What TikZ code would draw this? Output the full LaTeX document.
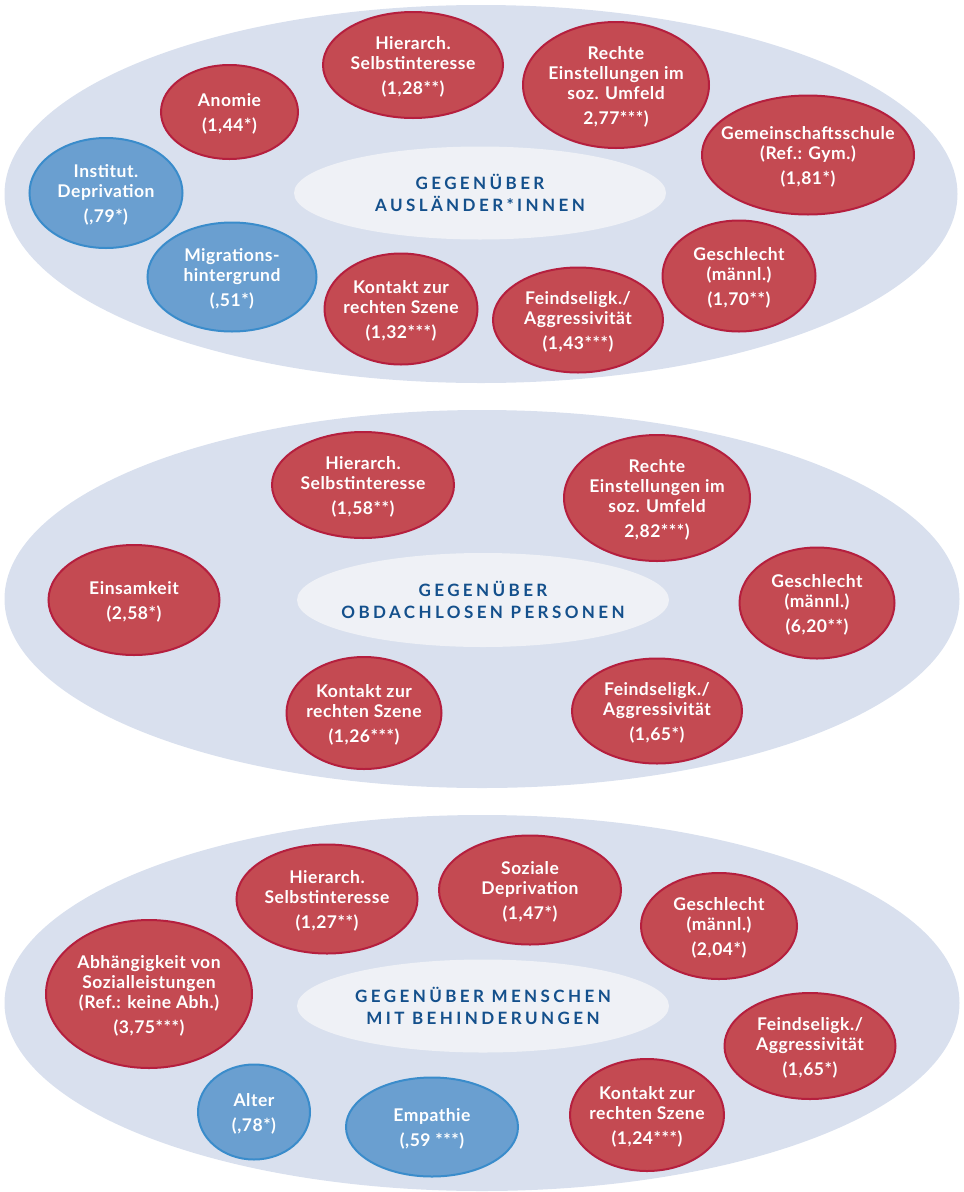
\documentclass[tikz,border=0pt]{standalone}
\usepackage{fontspec}
\setmainfont{Lato}[LetterSpace=3]
\newfontfamily\titlefont{Lato}[LetterSpace=20]
\usetikzlibrary{shapes.geometric}
\definecolor{panelbg}{HTML}{D9E0EE}
\definecolor{titlebg}{HTML}{EFF1F6}
\definecolor{titletext}{HTML}{14508C}
\definecolor{redfill}{HTML}{C44A52}
\definecolor{redline}{HTML}{B51F3E}
\definecolor{bluefill}{HTML}{6A9FD0}
\definecolor{blueline}{HTML}{3A8CCB}
\newcommand{\ctxt}[1]{\raisebox{-3pt}[\height][\depth]{\makebox[0pt]{\begin{tabular}{@{}c@{}}#1\end{tabular}}}}
\tikzset{
  panel/.style={ellipse, fill=panelbg, draw=none, inner sep=0pt},
  titlebox/.style={ellipse, fill=titlebg, draw=none, inner sep=0pt,
    text=titletext, font=\titlefont\bfseries\fontsize{17}{22}\selectfont},
  redbox/.style={ellipse, fill=redfill, draw=redline, line width=2pt, inner sep=0pt,
    text=white, font=\bfseries\fontsize{17.5}{20}\selectfont},
  bluebox/.style={ellipse, fill=bluefill, draw=blueline, line width=2pt, inner sep=0pt,
    text=white, font=\bfseries\fontsize{17.5}{20}\selectfont},
  sz/.style n args={2}{minimum width=#1pt, minimum height=#2pt}
}
\begin{document}
\begin{tikzpicture}[x=1pt,y=-1pt]
\useasboundingbox (0,0) rectangle (964,1192);
% ---------- Panel 1 ----------
\node[panel, sz={953}{378}] (p1) at (481,194) {};
\node[titlebox, sz={372}{93}] (t1) at (480,193) {\ctxt{GEGENÜBER\\AUSLÄNDER*INNEN}};
\node[redbox, sz={180}{106}] (a1) at (413,65) {\ctxt{Hierarch.\\Selbstinteresse\\[5pt](1,28**)}};
\node[redbox, sz={186}{126}] (a2) at (616,85) {\ctxt{Rechte\\Einstellungen im\\soz. Umfeld\\[5pt]2,77***)}};
\node[redbox, sz={137}{94}] (a3) at (229.5,112) {\ctxt{Anomie\\[5pt](1,44*)}};
\node[bluebox, sz={153}{110}] (a4) at (106,193) {\ctxt{Institut.\\Deprivation\\[5pt](,79*)}};
\node[bluebox, sz={169}{109}] (a5) at (232,277) {\ctxt{Migrations-\\hintergrund\\[5pt](,51*)}};
\node[redbox, sz={153}{111}] (a6) at (401,309) {\ctxt{Kontakt zur\\rechten Szene\\[5pt](1,32***)}};
\node[redbox, sz={212}{119}] (a7) at (808,155) {\ctxt{Gemeinschaftsschule\\(Ref.: Gym.)\\[5pt](1,81*)}};
\node[redbox, sz={153}{111}] (a8) at (739,276) {\ctxt{Geschlecht\\(männl.)\\[5pt](1,70**)}};
\node[redbox, sz={170}{105}] (a9) at (578,320) {\ctxt{Feindseligk./\\Aggressivität\\[5pt](1,43***)}};
% ---------- Panel 2 ----------
\node[panel, sz={955}{378}] (p2) at (482,599) {};
\node[titlebox, sz={372}{94}] (t2) at (483,600) {\ctxt{GEGENÜBER\\OBDACHLOSEN PERSONEN}};
\node[redbox, sz={182}{106}] (b1) at (363,485) {\ctxt{Hierarch.\\Selbstinteresse\\[5pt](1,58**)}};
\node[redbox, sz={186}{126}] (b2) at (657,498) {\ctxt{Rechte\\Einstellungen im\\soz. Umfeld\\[5pt]2,82***)}};
\node[redbox, sz={171}{110}] (b3) at (134,600) {\ctxt{Einsamkeit\\[5pt](2,58*)}};
\node[redbox, sz={155}{111}] (b4) at (817,603) {\ctxt{Geschlecht\\(männl.)\\[5pt](6,20**)}};
\node[redbox, sz={155}{112}] (b5) at (364,713) {\ctxt{Kontakt zur\\rechten Szene\\[5pt](1,26***)}};
\node[redbox, sz={170}{105}] (b6) at (657,711) {\ctxt{Feindseligk./\\Aggressivität\\[5pt](1,65*)}};
% ---------- Panel 3 ----------
\node[panel, sz={955}{376}] (p3) at (482,1003) {};
\node[titlebox, sz={372}{93}] (t3) at (483,1006) {\ctxt{GEGENÜBER MENSCHEN\\MIT BEHINDERUNGEN}};
\node[redbox, sz={181}{109}] (c1) at (327,899) {\ctxt{Hierarch.\\Selbstinteresse\\[5pt](1,27**)}};
\node[redbox, sz={182}{109}] (c2) at (530,890) {\ctxt{Soziale\\Deprivation\\[5pt](1,47*)}};
\node[redbox, sz={156}{106}] (c3) at (719,926) {\ctxt{Geschlecht\\(männl.)\\[5pt](2,04*)}};
\node[redbox, sz={206}{148}] (c4) at (149,994) {\ctxt{Abhängigkeit von\\Sozialleistungen\\(Ref.: keine Abh.)\\[5pt](3,75***)}};
\node[redbox, sz={171}{106}] (c5) at (810,1046) {\ctxt{Feindseligk./\\Aggressivität\\[5pt](1,65*)}};
\node[bluebox, sz={112}{95}] (c6) at (254,1112) {\ctxt{Alter\\[5pt](,78*)}};
\node[bluebox, sz={172}{99}] (c7) at (432,1127) {\ctxt{Empathie\\[5pt](,59 ***)}};
\node[redbox, sz={154}{112}] (c8) at (647,1115) {\ctxt{Kontakt zur\\rechten Szene\\[5pt](1,24***)}};
\end{tikzpicture}
\end{document}
